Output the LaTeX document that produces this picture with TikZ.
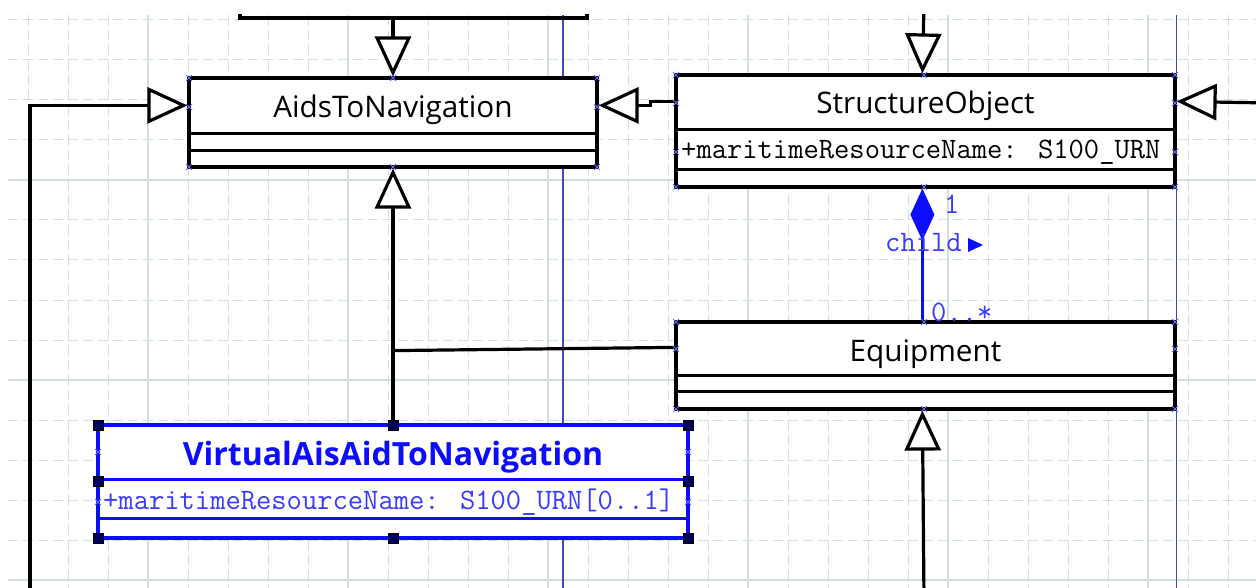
\documentclass[tikz,border=0pt]{standalone}
\usepackage{fontspec}
\usetikzlibrary{arrows.meta,calc}
\newfontfamily\namefont{Open Sans}
\newfontfamily\monofont{Latin Modern Mono}
\definecolor{gridc}{HTML}{D3E0E0}
\definecolor{pageblue}{HTML}{4646B4}
\definecolor{selblue}{HTML}{0C0CFF}
\definecolor{attrblue}{HTML}{3A3AFF}
\definecolor{handlec}{HTML}{00005C}
\definecolor{markc}{HTML}{6A6AFF}
\begin{document}
\begin{tikzpicture}[x=1pt,y=-1pt,
  umlbox/.style={draw=black,line width=3.2pt,fill=white,rectangle,inner sep=0pt},
  selbox/.style={draw=selblue,line width=3.2pt,fill=white,rectangle,inner sep=0pt},
  nametext/.style={font=\namefont\fontsize{29.7}{30}\selectfont,inner sep=0pt,anchor=base},
  selname/.style={font=\namefont\bfseries\fontsize{32}{32}\selectfont,text=selblue,inner sep=0pt,anchor=base},
  attrtext/.style={font=\monofont\fontsize{29.7}{30}\selectfont,inner sep=0pt,anchor=base west},
  multtext/.style={font=\monofont\fontsize{29.7}{30}\selectfont,text=attrblue,inner sep=0pt,anchor=base west},
  conn/.style={draw=black,line width=3.2pt},
  gen/.style={conn,-{Triangle[length=40pt,width=36pt,fill=white]}},
  comp/.style={draw=selblue,line width=3.2pt,{Diamond[length=52pt,width=24pt]}-},
  gridline/.style={draw=gridc,line width=1pt,dash pattern=on 10pt off 5pt},
  gridsolid/.style={draw=gridc,line width=1.3pt},
  cpmark/.style={draw=markc,line width=0.8pt},
  handle/.style={fill=handlec,draw=black,line width=0.6pt,minimum size=10pt,inner sep=0pt,rectangle}
]
\useasboundingbox (0,0) rectangle (1256,588);
\begin{scope}
\clip (0,15) rectangle (1256,588);
% grid
\begin{scope}
\clip (8,15) rectangle (1256,588);
\foreach \xx in {28,68,...,1228} \draw[gridline] (\xx,15) -- (\xx,588);
\foreach \yy in {20,60,...,580} \draw[gridline] (8,\yy) -- (1256,\yy);
\foreach \xx in {148,348,...,1148} \draw[gridsolid] (\xx,15) -- (\xx,588);
\foreach \yy in {180,380,580} \draw[gridsolid] (8,\yy) -- (1256,\yy);
\end{scope}
% page boundaries
\draw[pageblue,line width=1.2pt] (563,15) -- (563,588);
\draw[pageblue,line width=1.2pt] (1176.5,15) -- (1176.5,588);

% boxes
\node[umlbox,minimum width=408pt,minimum height=89pt] (aids) at (393,122.5) {};
\draw[conn] ($(aids.north west)+(0,57)$) -- ($(aids.north east)+(0,57)$);
\draw[conn] ($(aids.north west)+(0,74)$) -- ($(aids.north east)+(0,74)$);

\node[umlbox,minimum width=499pt,minimum height=112pt] (struct) at (925.5,131) {};
\draw[conn] ($(struct.north west)+(0,56)$) -- ($(struct.north east)+(0,56)$);
\draw[conn] ($(struct.north west)+(0,96)$) -- ($(struct.north east)+(0,96)$);

\node[umlbox,minimum width=499pt,minimum height=87pt] (equip) at (925.5,365.5) {};
\draw[conn] ($(equip.north west)+(0,55)$) -- ($(equip.north east)+(0,55)$);
\draw[conn] ($(equip.north west)+(0,71)$) -- ($(equip.north east)+(0,71)$);

\node[selbox,minimum width=590pt,minimum height=113pt] (virt) at (393,481.5) {};
\draw[selblue,line width=3.2pt] ($(virt.north west)+(0,56)$) -- ($(virt.north east)+(0,56)$);
\draw[selblue,line width=3.2pt] ($(virt.north west)+(0,95)$) -- ($(virt.north east)+(0,95)$);

% connectors
\coordinate (tbL) at (240,5);
\coordinate (tbR) at (587,5);
\coordinate (tbM) at (393,18);
\draw[conn] (tbL) -- (240,18) -- (587,18) -- (tbR);
\draw[gen] (tbM) -- (aids.north);

\coordinate (stop) at (924,5);
\draw[gen] (stop) -- ($(struct.north west)+(248,0)$);

\coordinate (lb) at (30,600);
\draw[gen] (lb) |- ($(aids.north west)+(0,29)$);

\draw[gen] ($(struct.north west)+(0,28)$) -- ++(-24,0) -- ++(0,4) -- ($(aids.north east)+(0,29)$);

\coordinate (rb) at (1270,103);
\draw[gen] (rb) -- ($(struct.north east)+(0,28)$);

\draw[comp] ($(struct.south west)+(248,0)$) -- ($(equip.north west)+(248,0)$);

\draw[conn] ($(equip.north west)+(0,27)$) -- ($(aids.south)+(0,182)$);
\draw[gen] (virt.north) -- (aids.south);

\coordinate (bb) at (924,600);
\draw[gen] (bb) -- ($(equip.south west)+(248,0)$);

% texts
\node[nametext] (aidsname) at (393,118) {AidsToNavigation};
\node[nametext] (structname) at (925.5,114) {StructureObject};
\node[attrtext] (structattr) at (681,159) {+maritimeResourceName: S100\_URN};
\node[nametext] (equipname) at (925.5,361) {Equipment};
\node[selname] (virtname) at (393,465) {VirtualAisAidToNavigation};
\node[attrtext,text=attrblue] (virtattr) at (103,509) {+maritimeResourceName: S100\_URN[0..1]};

\node[multtext] (mone) at (944,214) {1};
\node[multtext] (role) at (885,252) {child};
\fill[selblue] (968,238) -- (983,245) -- (968,252) -- cycle;
\node[multtext] (mmany) at (931,321) {0..*};

% connection point markers
\foreach \p in {(189,78),(393,78),(597,78),(189,107),(597,107),(189,167),(393,167),(597,167),
  (676,75),(924,75),(1175,75),(676,103),(1175,103),(676,152),(1175,152),(676,187),(924,187),(1175,187),
  (676,322),(924,322),(1175,322),(676,349),(1175,349),(676,409),(924,409),(1175,409),
  (98,452),(688,452),(98,502),(688,502)}
  \draw[cpmark] \p ++(-3,-3) -- ++(6,6) \p ++(-3,3) -- ++(6,-6);

% selection handles
\foreach \p/\n in {(98,425)/h1,(393,425)/h2,(688,425)/h3,(98,481)/h4,(688,481)/h5,(98,538)/h6,(393,538)/h7,(688,538)/h8}
  \node[handle] (\n) at \p {};
\end{scope}
\end{tikzpicture}
\end{document}
